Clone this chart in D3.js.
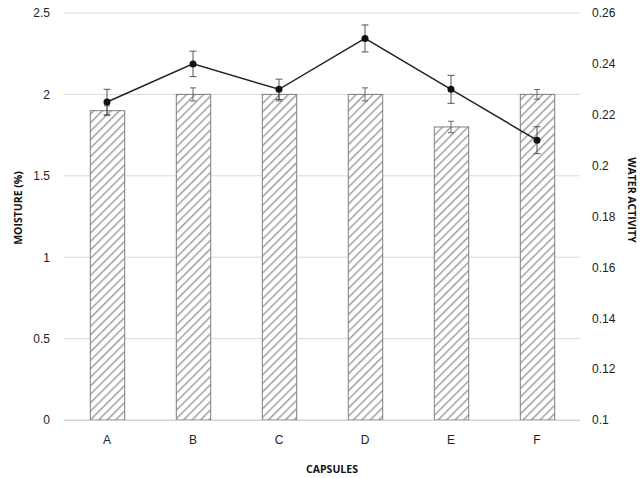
<!doctype html>
<meta charset="utf-8">
<style>
body { margin: 0; background: #fff; }
svg { font-family: "Open Sans", sans-serif; }
.tick text { font-size: 12px; fill: #222; }
.title { font-size: 10.5px; font-weight: bold; fill: #111; }
</style>
<div id="chart"></div>
<script src="https://cdn.jsdelivr.net/npm/d3@7"></script>
<script>
// data
const capsules = ["A", "B", "C", "D", "E", "F"];
const moisture = [1.9, 2, 2, 2, 1.8, 2];
const moistureErr = [0.03, 0.04, 0.04, 0.04, 0.035, 0.03];
const waterActivity = [0.225, 0.24, 0.23, 0.25, 0.23, 0.21];
const waterErr = [0.005, 0.005, 0.004, 0.0053, 0.0055, 0.0053];
const leftTicks = [0, 0.5, 1, 1.5, 2, 2.5];
const rightTicks = [0.1, 0.12, 0.14, 0.16, 0.18, 0.2, 0.22, 0.24, 0.26];

const W = 641, H = 478;
const plot = {left: 64, right: 580, top: 13, bottom: 420};

const svg = d3.select("#chart").append("svg")
  .attr("width", W)
  .attr("height", H);

// hatch pattern
const pat = svg.append("defs").append("pattern")
  .attr("id", "hatch")
  .attr("patternUnits", "userSpaceOnUse")
  .attr("width", 6)
  .attr("height", 6)
  .attr("patternTransform", "rotate(45)");
pat.append("rect").attr("width", 6).attr("height", 6).attr("fill", "#fff");
pat.append("line")
  .attr("x1", 0).attr("y1", 0).attr("x2", 0).attr("y2", 6)
  .attr("stroke", "#9a9a9a")
  .attr("stroke-width", 2.8);

let x = d3.scaleBand()
  .domain(capsules)
  .range([plot.left, plot.right])
  .paddingInner(0.6)
  .paddingOuter(0.3);

let y = d3.scaleLinear()
  .domain([0, 2.5])
  .range([plot.bottom, plot.top]);

let y2 = d3.scaleLinear()
  .domain([0.1, 0.26])
  .range([plot.bottom, plot.top]);

// gridlines
svg.append("g")
  .selectAll("line")
  .data(leftTicks)
  .join("line")
  .attr("x1", plot.left)
  .attr("x2", plot.right)
  .attr("y1", d => y(d))
  .attr("y2", d => y(d))
  .attr("stroke", "#d9d9d9")
  .attr("stroke-width", 1);

// left axis
let yAxis = d3.axisLeft(y)
  .tickValues(leftTicks)
  .tickSize(0)
  .tickPadding(14)
  .tickFormat(d3.format("~g"));
svg.append("g")
  .attr("transform", "translate(" + plot.left + ",0)")
  .call(yAxis)
  .call(g => g.select(".domain").remove());

// right axis
let y2Axis = d3.axisRight(y2)
  .tickValues(rightTicks)
  .tickSize(0)
  .tickPadding(12)
  .tickFormat(d3.format("~g"));
svg.append("g")
  .attr("transform", "translate(" + plot.right + ",0)")
  .call(y2Axis)
  .call(g => g.select(".domain").remove());

// bars
let bw = x.bandwidth();
svg.append("g")
  .selectAll("rect")
  .data(capsules)
  .join("rect")
  .attr("x", d => x(d) + 0.5)
  .attr("y", (d, i) => y(moisture[i]))
  .attr("width", bw)
  .attr("height", (d, i) => y(0) - y(moisture[i]))
  .attr("fill", "url(#hatch)")
  .attr("stroke", "#7f7f7f")
  .attr("stroke-width", 1);

// bar error bars
let barErr = svg.append("g")
  .attr("stroke", "#666")
  .attr("stroke-width", 1);
capsules.forEach((c, i) => {
  let cx = x(c) + bw / 2;
  let lo = y(moisture[i] - moistureErr[i]), hi = y(moisture[i] + moistureErr[i]);
  barErr.append("line").attr("x1", cx).attr("x2", cx).attr("y1", lo).attr("y2", hi);
  barErr.append("line").attr("x1", cx - 3).attr("x2", cx + 3).attr("y1", lo).attr("y2", lo);
  barErr.append("line").attr("x1", cx - 3).attr("x2", cx + 3).attr("y1", hi).attr("y2", hi);
});

// x axis line
svg.append("line")
  .attr("x1", plot.left)
  .attr("x2", plot.right)
  .attr("y1", y(0) + 0.5)
  .attr("y2", y(0) + 0.5)
  .attr("stroke", "#d0d0d0");

let xAxis = d3.axisBottom(x).tickSize(0).tickPadding(15);
svg.append("g")
  .attr("transform", "translate(0," + plot.bottom + ")")
  .call(xAxis)
  .call(g => g.select(".domain").remove());

// water activity line
let line = d3.line()
  .x((d, i) => x(capsules[i]) + bw / 2)
  .y(d => y2(d));
svg.append("path")
  .datum(waterActivity)
  .attr("d", line)
  .attr("fill", "none")
  .attr("stroke", "#222")
  .attr("stroke-width", 1.5);

let lineErr = svg.append("g")
  .attr("stroke", "#555")
  .attr("stroke-width", 1);
capsules.forEach((c, i) => {
  let cx = x(c) + bw / 2;
  let lo = y2(waterActivity[i] - waterErr[i]), hi = y2(waterActivity[i] + waterErr[i]);
  lineErr.append("line").attr("x1", cx).attr("x2", cx).attr("y1", lo).attr("y2", hi);
  lineErr.append("line").attr("x1", cx - 3.5).attr("x2", cx + 3.5).attr("y1", lo).attr("y2", lo);
  lineErr.append("line").attr("x1", cx - 3.5).attr("x2", cx + 3.5).attr("y1", hi).attr("y2", hi);
});

svg.append("g")
  .selectAll("circle")
  .data(waterActivity)
  .join("circle")
  .attr("cx", (d, i) => x(capsules[i]) + bw / 2)
  .attr("cy", d => y2(d))
  .attr("r", 3.5)
  .attr("fill", "#111");

// titles
svg.append("text")
  .attr("class", "title")
  .attr("text-anchor", "middle")
  .attr("transform", "translate(22,208) rotate(-90)")
  .text("MOISTURE (%)");

svg.append("text")
  .attr("class", "title")
  .attr("text-anchor", "middle")
  .attr("transform", "translate(628,200) rotate(90)")
  .text("WATER ACTIVITY");

svg.append("text")
  .attr("class", "title")
  .attr("text-anchor", "middle")
  .attr("x", 332)
  .attr("y", 473)
  .text("CAPSULES");
</script>
